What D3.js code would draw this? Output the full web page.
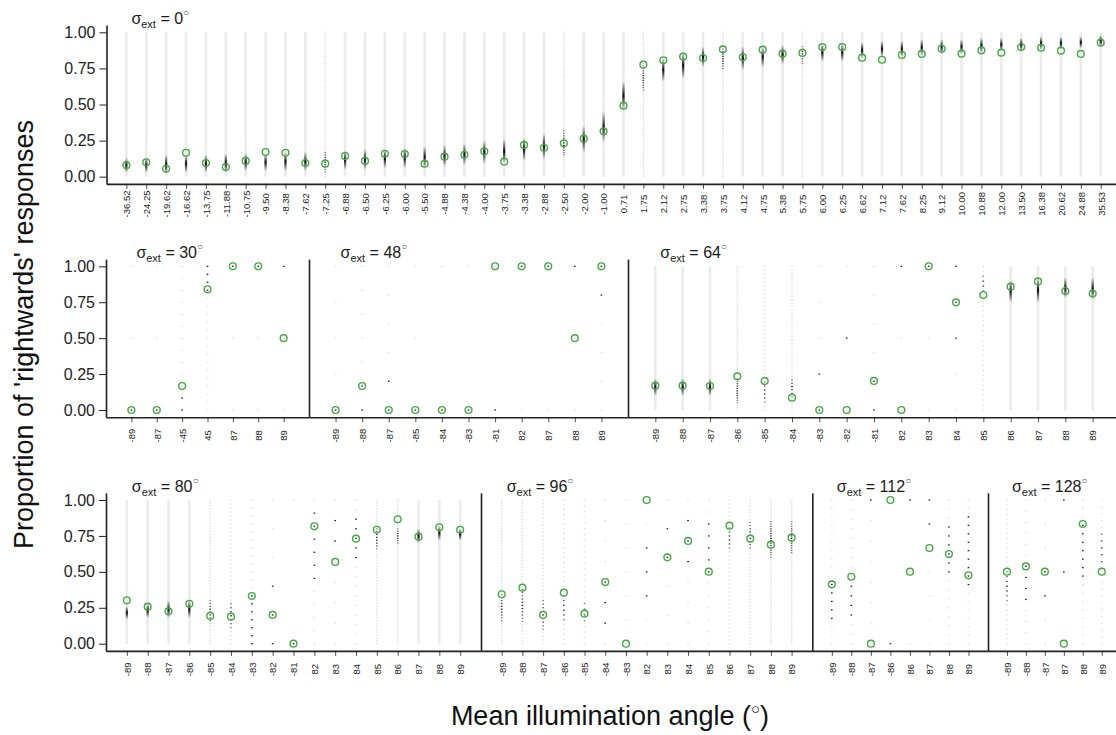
<!DOCTYPE html>
<html lang="en">
<head>
<meta charset="UTF-8">
<title>Proportion of rightwards responses</title>
<style>
  body { margin: 0; background: #fff; }
  svg { display: block; font-family: "Liberation Sans", Arial, Helvetica, sans-serif; }
  .axis path, .axis line { stroke: #222; }
  .axis text { fill: #222; }
</style>
</head>
<body>
<div id="chart"></div>
<script src="https://d3js.org/d3.v7.min.js"></script>
<script>
// ---- data, one set of arrays per sigma_ext facet ----
// obs = observed proportion (green circle), lo/hi = dark part of the model
// prediction column, lev = number of response levels (0 = continuous column)

// sigma_ext = 0
const cats0 = ["-36.52","-24.25","-19.62","-16.62","-13.75","-11.88","-10.75","-9.50","-8.38","-7.62",
  "-7.25","-6.88","-6.50","-6.25","-6.00","-5.50","-4.88","-4.38","-4.00","-3.75",
  "-3.38","-2.88","-2.50","-2.00","-1.00","0.71","1.75","2.12","2.75","3.38",
  "3.75","4.12","4.75","5.38","5.75","6.00","6.25","6.62","7.12","7.62",
  "8.25","9.12","10.00","10.88","12.00","13.50","16.38","20.62","24.88","35.53"];
const obs0 = [0.08,0.10,0.055,0.166,0.095,0.067,0.109,0.171,0.166,0.095,
  0.09,0.143,0.109,0.159,0.157,0.09,0.139,0.152,0.176,0.104,
  0.22,0.20,0.231,0.263,0.314,0.492,0.776,0.806,0.831,0.822,
  0.882,0.827,0.88,0.852,0.857,0.898,0.898,0.824,0.81,0.843,
  0.85,0.886,0.852,0.875,0.859,0.898,0.893,0.873,0.85,0.928];
const lo0 = [0.03,0.03,0.02,0.03,0.03,0.03,0.04,0.04,0.04,0.04,
  0.03,0.05,0.05,0.06,0.06,0.06,0.07,0.08,0.09,0.09,
  0.11,0.12,0.14,0.17,0.24,0.46,0.60,0.66,0.68,0.76,
  0.74,0.74,0.76,0.78,0.78,0.80,0.80,0.82,0.83,0.83,
  0.84,0.85,0.85,0.86,0.87,0.87,0.88,0.88,0.89,0.90];
const hi0 = [0.13,0.13,0.15,0.15,0.15,0.16,0.16,0.16,0.17,0.17,
  0.18,0.18,0.19,0.19,0.20,0.21,0.22,0.23,0.25,0.26,
  0.27,0.30,0.32,0.35,0.45,0.66,0.77,0.82,0.86,0.90,
  0.90,0.90,0.90,0.91,0.91,0.92,0.92,0.93,0.94,0.94,
  0.95,0.95,0.95,0.96,0.96,0.96,0.97,0.97,0.97,0.98];
const lev0 = [0,0,0,0,0,0,0,0,0,0, 60,0,0,0,0,0,0,0,0,0,
  0,0,60,0,0,0,60,0,0,0, 60,0,0,0,60,0,0,0,0,0, 0,0,0,0,0,0,0,0,0,0];

// sigma_ext = 30
const cats30 = ["-89","-87","-45","45","87","88","89"];
const obs30 = [0,0,0.167,0.84,1,1,0.5];
const lo30 = [0,0,0,0.8,1,1,1];
const hi30 = [0,0,0.09,1,1,1,1];
const lev30 = [2,2,12,18,2,2,2];

// sigma_ext = 48
const cats48 = ["-89","-88","-87","-85","-84","-83","-81","82","87","88","89"];
const obs48 = [0,0.167,0,0,0,0,1,1,1,0.5,1];
const lo48 = [0,0,0,0,0,0,0,1,1,1,0.8];
const hi48 = [0,0.17,0.2,0,0,0,0,1,1,1,1];
const lev48 = [4,6,5,2,1,1,1,1,1,2,5];

// sigma_ext = 64
const cats64 = ["-89","-88","-87","-86","-85","-84","-83","-82","-81","82","83","84","85","86","87","88","89"];
const obs64 = [0.169,0.169,0.167,0.234,0.202,0.086,0,0,0.202,0,1,0.749,0.8,0.858,0.895,0.828,0.81];
const lo64 = [0.10,0.10,0.10,0.05,0.05,0.09,0,0.5,0,1,1,0.5,0.8,0.75,0.75,0.78,0.77];
const hi64 = [0.22,0.22,0.22,0.22,0.20,0.23,0.25,0.5,0.2,1,1,1,0.95,0.90,0.92,0.92,0.92];
const lev64 = [0,0,0,60,36,43,4,2,5,2,2,4,29,0,0,0,0];

// sigma_ext = 80
const cats80 = ["-89","-88","-87","-86","-85","-84","-83","-82","-81","82","83","84","85","86","87","88","89"];
const obs80 = [0.302,0.258,0.225,0.278,0.193,0.188,0.332,0.2,0,0.817,0.569,0.731,0.793,0.866,0.745,0.81,0.793];
const lo80 = [0.17,0.18,0.18,0.18,0.15,0.10,0,0,0,0.45,0.70,0.60,0.65,0.70,0.70,0.72,0.72];
const hi80 = [0.26,0.28,0.30,0.30,0.30,0.30,0.35,0.4,0,0.91,0.86,0.90,0.80,0.80,0.80,0.82,0.80];
const lev80 = [0,0,0,0,50,36,18,5,1,11,7,15,50,60,0,0,0];

// sigma_ext = 96
const cats96 = ["-89","-88","-87","-86","-85","-84","-83","82","83","84","85","86","87","88","89"];
const obs96 = [0.344,0.39,0.2,0.355,0.209,0.429,0,1,0.601,0.715,0.501,0.821,0.731,0.689,0.738];
const lo96 = [0.15,0.15,0.10,0.15,0.15,0.12,0.33,0.33,0.60,0.50,0.50,0.65,0.65,0.60,0.62];
const hi96 = [0.34,0.39,0.30,0.35,0.30,0.44,0.33,0.67,0.86,0.90,0.90,0.82,0.85,0.85,0.85];
const lev96 = [50,45,40,30,25,7,6,6,5,7,12,36,45,60,60];

// sigma_ext = 112
const cats112 = ["-89","-88","-87","-86","86","87","88","89"];
const obs112 = [0.413,0.466,0,1,0.501,0.666,0.624,0.476];
const lo112 = [0.15,0.20,1,0,1,0.67,0.45,0.40];
const hi112 = [0.45,0.45,1,0,1,1,0.85,0.90];
const lev112 = [17,15,7,1,2,6,16,17];

// sigma_ext = 128
const cats128 = ["-89","-88","-87","87","88","89"];
const obs128 = [0.501,0.538,0.501,0,0.833,0.501];
const lo128 = [0.30,0.25,0.33,0.5,0.45,0.50];
const hi128 = [0.50,0.55,0.50,1,0.85,0.80];
const lev128 = [30,13,6,2,17,21];

// ---- layout ----
const width = 1116, height = 735;
const green = "#44a844";

// rows: pixel position of y = 1 and y = 0
const rows = [
  { top: 32.3, bottom: 176.7 },
  { top: 266.3, bottom: 410 },
  { top: 500, bottom: 643.7 }
];

// facets: row, left and right edge of the panel
const facets = [
  { sigma: 0,   row: 0, x0: 106.5, x1: 1120.6, cats: cats0,   obs: obs0,   lo: lo0,   hi: hi0,   lev: lev0 },
  { sigma: 30,  row: 1, x0: 106,   x1: 309,    cats: cats30,  obs: obs30,  lo: lo30,  hi: hi30,  lev: lev30 },
  { sigma: 48,  row: 1, x0: 309,   x1: 628,    cats: cats48,  obs: obs48,  lo: lo48,  hi: hi48,  lev: lev48 },
  { sigma: 64,  row: 1, x0: 628,   x1: 1120,   cats: cats64,  obs: obs64,  lo: lo64,  hi: hi64,  lev: lev64 },
  { sigma: 80,  row: 2, x0: 106,   x1: 481,    cats: cats80,  obs: obs80,  lo: lo80,  hi: hi80,  lev: lev80 },
  { sigma: 96,  row: 2, x0: 481,   x1: 812.3,  cats: cats96,  obs: obs96,  lo: lo96,  hi: hi96,  lev: lev96 },
  { sigma: 112, row: 2, x0: 812.3, x1: 988,    cats: cats112, obs: obs112, lo: lo112, hi: hi112, lev: lev112 },
  { sigma: 128, row: 2, x0: 988,   x1: 1120.7, cats: cats128, obs: obs128, lo: lo128, hi: hi128, lev: lev128 }
];

const svg = d3.select("#chart")
  .append("svg")
  .attr("width", width)
  .attr("height", height);

// gradient for the dark part of the continuous columns
const grad = svg.append("defs").append("linearGradient")
  .attr("id", "band")
  .attr("x1", 0).attr("y1", 0).attr("x2", 0).attr("y2", 1);
grad.append("stop").attr("offset", "0%").attr("stop-color", "#000").attr("stop-opacity", 0.03);
grad.append("stop").attr("offset", "50%").attr("stop-color", "#000").attr("stop-opacity", 0.95);
grad.append("stop").attr("offset", "100%").attr("stop-color", "#000").attr("stop-opacity", 0.03);

// y scales, one per row (axis runs from -0.05 to 1.05)
const yScales = rows.map(r => {
  const s = (r.bottom - r.top);
  return d3.scaleLinear().domain([-0.05, 1.05]).range([r.bottom + 0.05 * s, r.top - 0.05 * s]);
});

facets.forEach((f, fi) => {
  const y = yScales[f.row];
  const idx = d3.range(f.cats.length);
  const x = d3.scalePoint().domain(idx).range([f.x0, f.x1]).padding(1);
  const g = svg.append("g");

  // columns
  idx.forEach(i => {
    const cx = x(i);
    const n = f.lev[i];
    const lo = f.lo[i], hi = f.hi[i];
    if (n === 0) {
      g.append("rect")
        .attr("x", cx - 1.3).attr("width", 2.6)
        .attr("y", y(1)).attr("height", y(0) - y(1))
        .attr("fill", "#ebebeb");
      g.append("rect")
        .attr("x", cx - 1.1).attr("width", 2.2)
        .attr("y", y(hi)).attr("height", y(lo) - y(hi))
        .attr("fill", "url(#band)");
    } else {
      const levels = d3.range(n + 1).map(k => k / n);
      const mid = (lo + hi) / 2, half = (hi - lo) / 2 + 1e-6;
      g.selectAll(null)
        .data(levels)
        .join("rect")
        .attr("x", cx - 0.8).attr("width", 1.6)
        .attr("y", d => y(d) - 0.6).attr("height", 1.2)
        .attr("fill", d => (d >= lo - 1e-3 && d <= hi + 1e-3) ? "#111" : "#d6d6d6")
        .attr("opacity", d => {
          if (d < lo - 1e-3 || d > hi + 1e-3) return 0.8;
          return n > 20 ? 1 - 0.5 * Math.abs(d - mid) / half : 1;
        });
    }
  });

  // observed proportions
  g.selectAll("circle")
    .data(idx)
    .join("circle")
    .attr("cx", i => x(i))
    .attr("cy", i => y(f.obs[i]))
    .attr("r", 3.4)
    .attr("fill", "none")
    .attr("stroke", green)
    .attr("stroke-width", 1.4);

  // x axis
  const xAxis = svg.append("g")
    .attr("class", "axis")
    .attr("transform", `translate(0,${y(-0.05)})`)
    .call(d3.axisBottom(x).tickSize(5).tickSizeOuter(0).tickFormat(i => f.cats[i]));
  xAxis.select(".domain").attr("stroke-width", 1.6);
  xAxis.selectAll(".tick line").attr("stroke-width", 0.8);
  xAxis.selectAll(".tick text")
    .attr("transform", "rotate(-90)")
    .attr("x", f.row === 0 ? -20 : -18.4)
    .attr("y", 0)
    .attr("dy", "0.35em")
    .attr("text-anchor", "middle")
    .attr("font-size", 9.5)
    .attr("font-family", null);

  // y axis on the first panel of a row, plain divider on the others
  const first = fi === 0 || facets[fi - 1].row !== f.row;
  const yAxis = svg.append("g")
    .attr("class", "axis")
    .attr("transform", `translate(${f.x0},0)`)
    .call(d3.axisLeft(y)
      .tickValues(first ? [0, 0.25, 0.5, 0.75, 1] : [])
      .tickSize(7).tickSizeOuter(0)
      .tickFormat(d3.format(".2f")));
  yAxis.select(".domain").attr("stroke-width", 1.6);
  yAxis.selectAll(".tick line").attr("stroke-width", 1);
  yAxis.selectAll(".tick text")
    .attr("x", -11)
    .attr("font-size", 16)
    .attr("font-family", null);

  // facet title
  const t = svg.append("text")
    .attr("x", x(0) + 5)
    .attr("y", y(1.055))
    .attr("font-size", 16)
    .attr("fill", "#1a1a1a");
  t.append("tspan").text("σ");
  t.append("tspan").attr("font-size", 11).attr("dy", 4).text("ext");
  t.append("tspan").attr("dy", -4).text(" = " + f.sigma);
  t.append("tspan").attr("font-size", 10).attr("dy", -8).attr("fill", "#555").text("○");
});

// axis titles
svg.append("text")
  .attr("transform", "translate(33,334.5) rotate(-90)")
  .attr("text-anchor", "middle")
  .attr("font-size", 27)
  .attr("fill", "#111")
  .text("Proportion of 'rightwards' responses");

const xt = svg.append("text")
  .attr("x", 610)
  .attr("y", 725)
  .attr("text-anchor", "middle")
  .attr("font-size", 27)
  .attr("fill", "#111");
xt.append("tspan").text("Mean illumination angle (");
xt.append("tspan").attr("font-size", 15).attr("dy", -11).text("○");
xt.append("tspan").attr("dy", 11).text(")");
</script>
</body>
</html>
